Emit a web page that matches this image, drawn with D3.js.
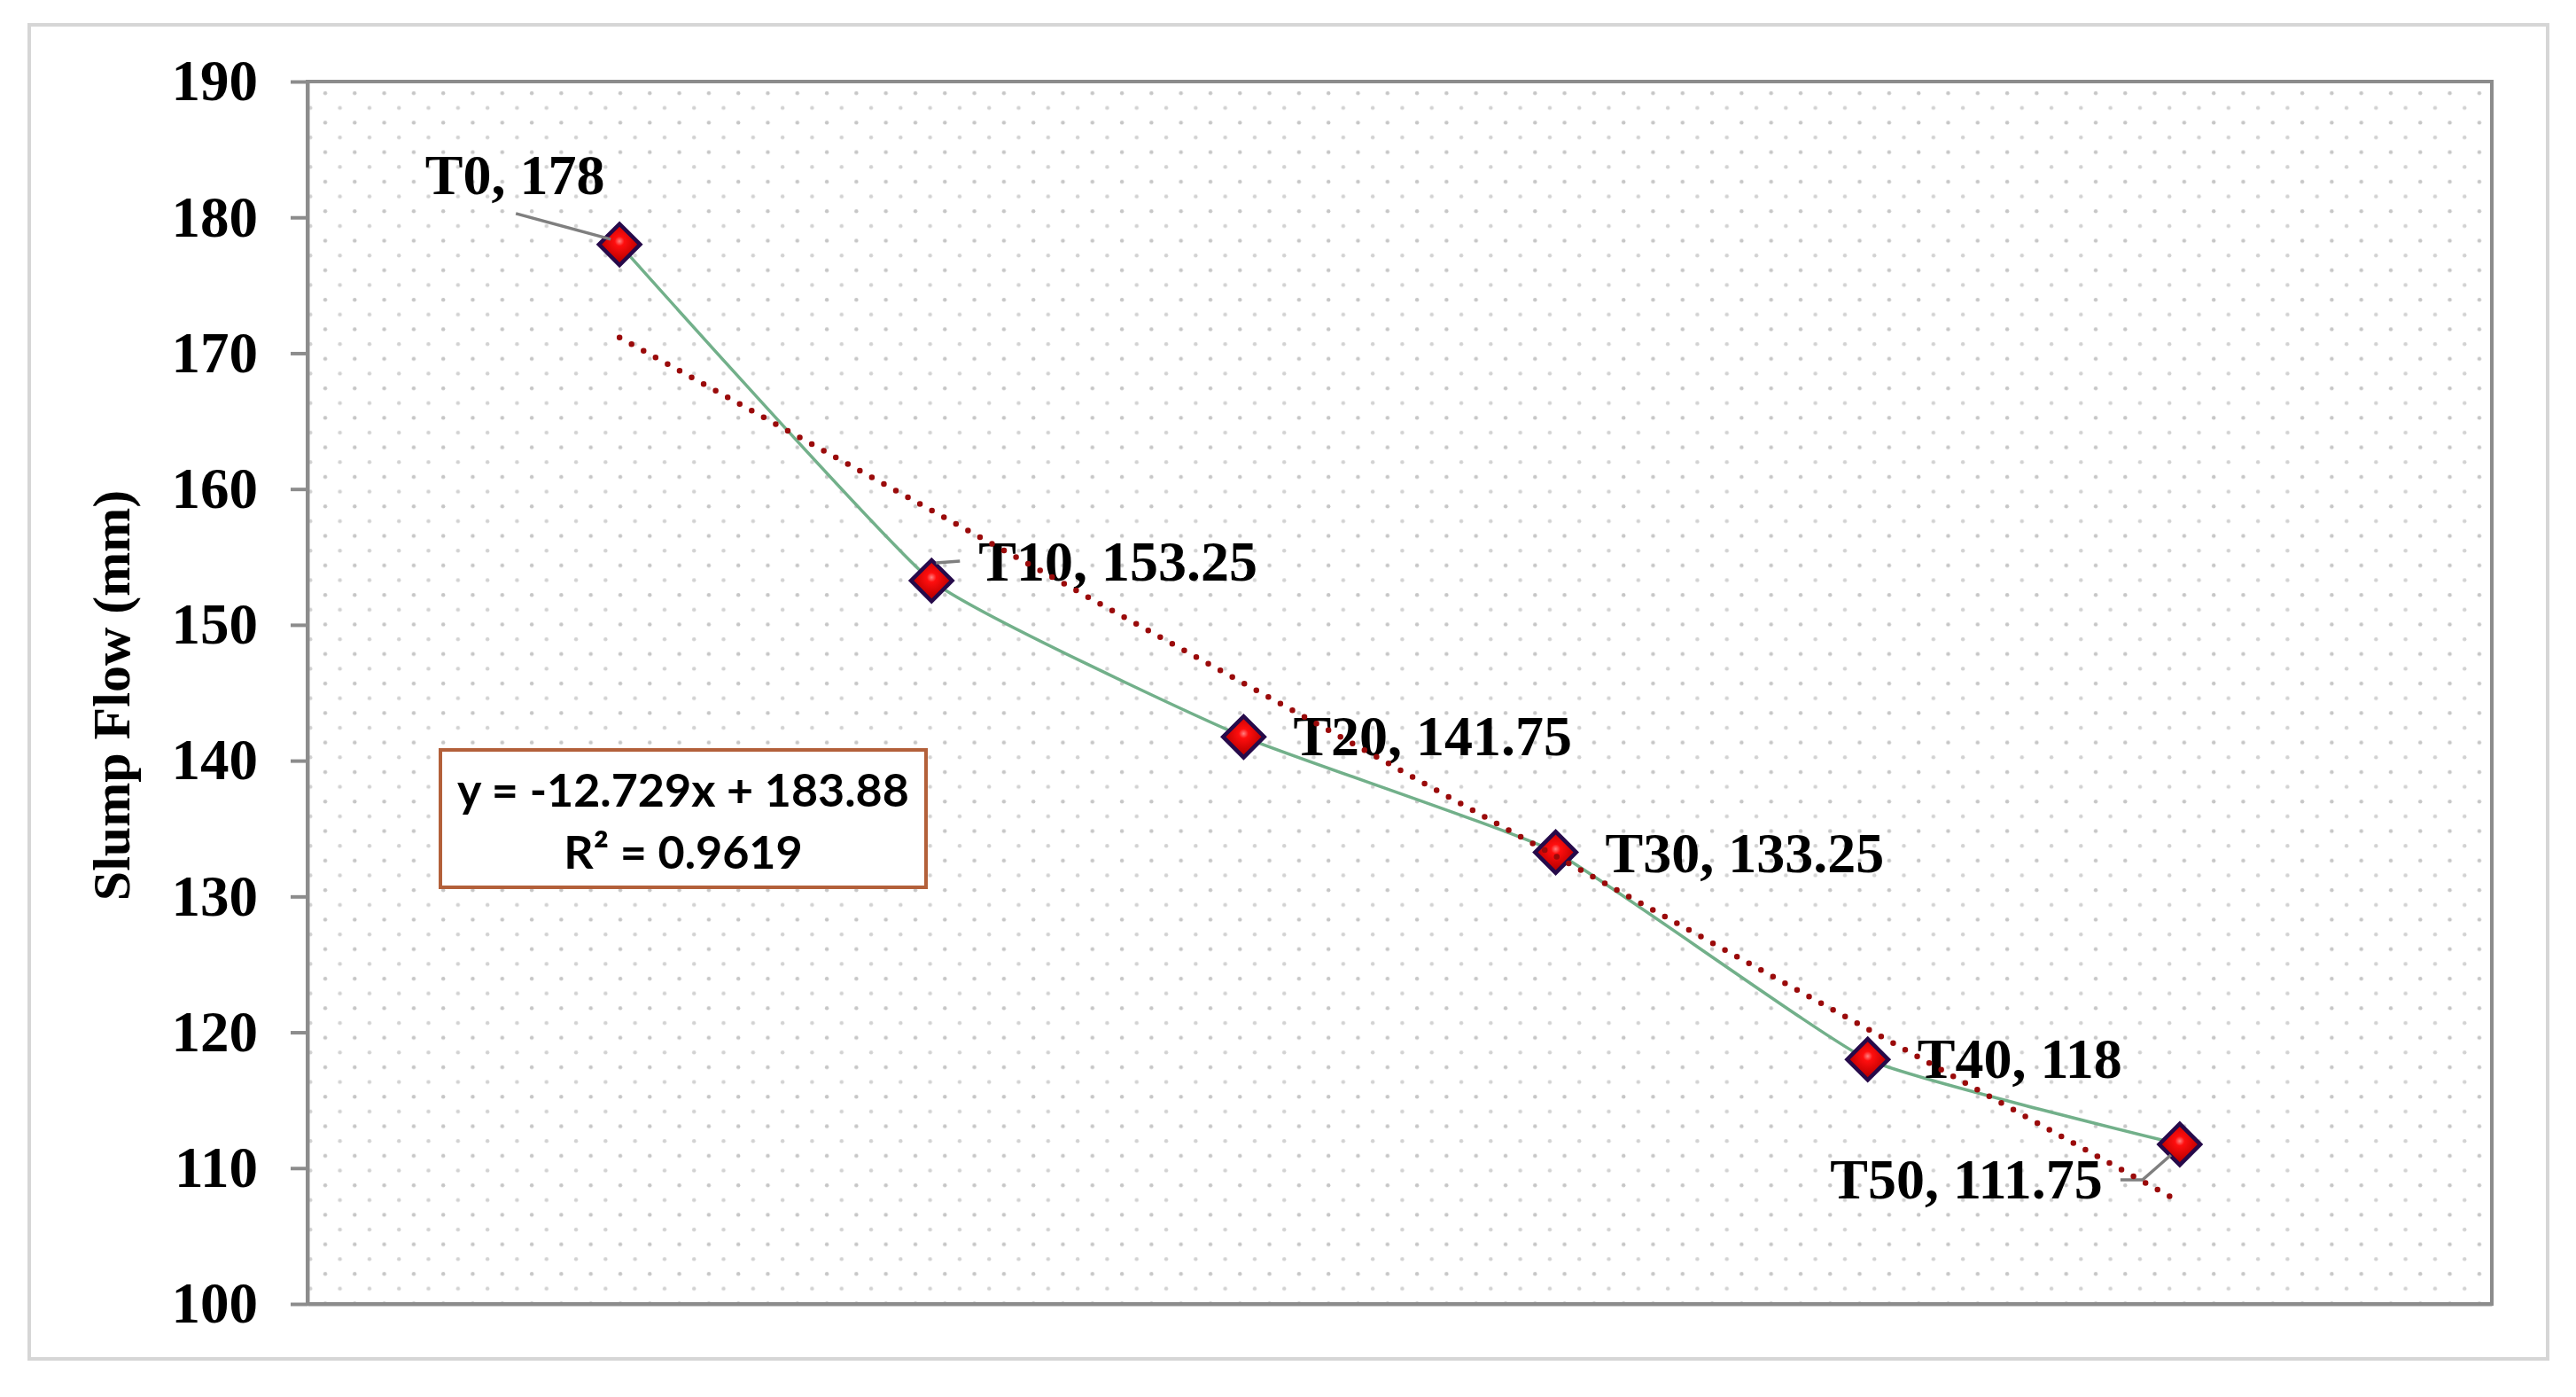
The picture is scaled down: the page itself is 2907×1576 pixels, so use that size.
<!DOCTYPE html>
<html>
<head>
<meta charset="utf-8">
<script src="https://cdn.jsdelivr.net/npm/d3@7"></script>
<style>
  body { margin: 0; background: #ffffff; }
  svg text { font-family: "Liberation Serif", "Times New Roman", serif; font-weight: bold; }
</style>
</head>
<body>
<div id="chart"></div>
<script>
// data
var categories = ["T0", "T10", "T20", "T30", "T40", "T50"];
var slumpFlow = [178, 153.25, 141.75, 133.25, 118, 111.75];
var yTicks = [100, 110, 120, 130, 140, 150, 160, 170, 180, 190];
var yTitle = "Slump Flow (mm)";

var w = 2907;
var h = 1576;
var plot = { left: 347, right: 2812, top: 92, bottom: 1471 };

var lineColor = "#72b08a";
var trendColor = "#9a0a0a";
var axisColor = "#8c8c8c";

// label placement relative to each marker (anchor, dx, dy of baseline, leader points)
var labelPlacement = [
    { anchor: "middle", dx: -118, dy: -57, leader: [[-10, -6], [-117, -35]] },
    { anchor: "start", dx: 53, dy: 0, leader: [[5, -20], [32, -22]] },
    { anchor: "start", dx: 56, dy: 21, leader: null },
    { anchor: "start", dx: 56, dy: 22, leader: null },
    { anchor: "start", dx: 56, dy: 21, leader: null },
    { anchor: "end", dx: -87, dy: 61, leader: [[-10, 12], [-42, 40], [-67, 40]] }
];

var points = slumpFlow.map(function (v, i) {
    return { cat: categories[i], x: i + 1, y: v };
});

// least squares fit, same as the excel trendline
var n = points.length;
var mx = d3.mean(points, function (d) { return d.x; });
var my = d3.mean(points, function (d) { return d.y; });
var sxy = d3.sum(points, function (d) { return (d.x - mx) * (d.y - my); });
var sxx = d3.sum(points, function (d) { return (d.x - mx) * (d.x - mx); });
var syy = d3.sum(points, function (d) { return (d.y - my) * (d.y - my); });
var slope = sxy / sxx;
var intercept = my - slope * mx;
var r2 = (sxy * sxy) / (sxx * syy);

var svg = d3.select("#chart")
    .append("svg")
    .attr("width", w)
    .attr("height", h);

var x = d3.scaleLinear().domain([0, 7]).range([plot.left, plot.right]);
var y = d3.scaleLinear().domain([100, 190]).range([plot.bottom, plot.top]);

var defs = svg.append("defs");

//dotted plot area fill
var pat = defs.append("pattern")
    .attr("id", "dots")
    .attr("patternUnits", "userSpaceOnUse")
    .attr("x", plot.left + 12)
    .attr("y", plot.top + 5)
    .attr("width", 33.3)
    .attr("height", 33.3);
pat.append("circle").attr("cx", 8).attr("cy", 8).attr("r", 2.2).attr("fill", "#c6c6c6");
pat.append("circle").attr("cx", 24.65).attr("cy", 24.65).attr("r", 2.2).attr("fill", "#d2d2d2");

var grad = defs.append("radialGradient")
    .attr("id", "markerFill")
    .attr("cx", "42%").attr("cy", "42%").attr("r", "65%");
grad.append("stop").attr("offset", "0%").attr("stop-color", "#ff8080");
grad.append("stop").attr("offset", "25%").attr("stop-color", "#ff0e0e");
grad.append("stop").attr("offset", "100%").attr("stop-color", "#c00000");

//outer chart frame
svg.append("rect")
    .attr("x", 33).attr("y", 28)
    .attr("width", 2842).attr("height", 1505)
    .attr("fill", "#ffffff")
    .attr("stroke", "#d6d6d6")
    .attr("stroke-width", 4);

//plot area
svg.append("rect")
    .attr("x", plot.left).attr("y", plot.top)
    .attr("width", plot.right - plot.left)
    .attr("height", plot.bottom - plot.top)
    .attr("fill", "url(#dots)")
    .attr("stroke", axisColor)
    .attr("stroke-width", 4);

//y axis
var yAxis = svg.append("g")
    .attr("transform", "translate(" + plot.left + ",0)")
    .call(d3.axisLeft(y).tickValues(yTicks).tickSize(19).tickPadding(37).tickSizeOuter(0));
yAxis.select(".domain").attr("stroke", axisColor).attr("stroke-width", 4);
yAxis.selectAll(".tick line").attr("stroke", axisColor).attr("stroke-width", 4);
yAxis.selectAll(".tick text")
    .attr("fill", "#000000")
    .style("font-family", "'Liberation Serif', serif")
    .style("font-weight", "bold")
    .style("font-size", "65px");

//x axis (line only)
var xAxis = svg.append("g")
    .attr("transform", "translate(0," + plot.bottom + ")")
    .call(d3.axisBottom(x).tickValues([]).tickSizeOuter(0));
xAxis.select(".domain").attr("stroke", axisColor).attr("stroke-width", 4);

svg.append("text")
    .attr("transform", "translate(146," + ((plot.top + plot.bottom) / 2 + 3) + ") rotate(-90)")
    .attr("text-anchor", "middle")
    .style("font-size", "60px")
    .attr("fill", "#000000")
    .text(yTitle);

//series line, lightly smoothed
var line = d3.line()
    .x(function (d) { return x(d.x); })
    .y(function (d) { return y(d.y); })
    .curve(d3.curveCardinal.tension(0.6));

svg.append("path")
    .datum(points)
    .attr("d", line)
    .attr("fill", "none")
    .attr("stroke", lineColor)
    .attr("stroke-width", 3.5);

//markers
svg.selectAll(".marker")
    .data(points)
    .enter()
    .append("path")
    .attr("class", "marker")
    .attr("d", d3.symbol().type(d3.symbolSquare).size(1080))
    .attr("transform", function (d) {
        return "translate(" + x(d.x) + "," + y(d.y) + ") rotate(45)";
    })
    .attr("fill", "url(#markerFill)")
    .attr("stroke", "#260a4a")
    .attr("stroke-width", 4.5);

//leader lines
points.forEach(function (d, i) {
    var p = labelPlacement[i];
    if (!p.leader) return;
    svg.append("polyline")
        .attr("points", p.leader.map(function (q) {
            return (x(d.x) + q[0]) + "," + (y(d.y) + q[1]);
        }).join(" "))
        .attr("fill", "none")
        .attr("stroke", "#7f7f7f")
        .attr("stroke-width", 3.5);
});

//data labels
svg.selectAll(".dlabel")
    .data(points)
    .enter()
    .append("text")
    .attr("class", "dlabel")
    .attr("x", function (d, i) { return x(d.x) + labelPlacement[i].dx; })
    .attr("y", function (d, i) { return y(d.y) + labelPlacement[i].dy; })
    .attr("text-anchor", function (d, i) { return labelPlacement[i].anchor; })
    .style("font-size", "64px")
    .attr("fill", "#000000")
    .text(function (d) { return d.cat + ", " + d.y; });

//linear trendline, dotted
var first = points[0].x, last = points[n - 1].x;
svg.append("line")
    .attr("x1", x(first)).attr("y1", y(intercept + slope * first))
    .attr("x2", x(last)).attr("y2", y(intercept + slope * last))
    .attr("stroke", trendColor)
    .attr("stroke-width", 6.5)
    .attr("stroke-linecap", "round")
    .attr("stroke-dasharray", "0 15.5");

//equation box
var box = svg.append("g");
box.append("rect")
    .attr("x", 497).attr("y", 846)
    .attr("width", 548).attr("height", 155)
    .attr("fill", "#ffffff")
    .attr("stroke", "#b3603a")
    .attr("stroke-width", 4);
var eqText = "y = " + slope.toFixed(3) + "x + " + intercept.toFixed(2);
var r2Text = "R\u00b2 = " + r2.toFixed(4);
box.selectAll("text")
    .data([eqText, r2Text])
    .enter()
    .append("text")
    .attr("x", 771)
    .attr("y", function (d, i) { return 910 + i * 70; })
    .attr("text-anchor", "middle")
    .style("font-family", "Lato, 'Open Sans', sans-serif")
    .style("font-weight", "bold")
    .style("font-size", "52px")
    .attr("fill", "#000000")
    .text(function (d) { return d; });
</script>
</body>
</html>
